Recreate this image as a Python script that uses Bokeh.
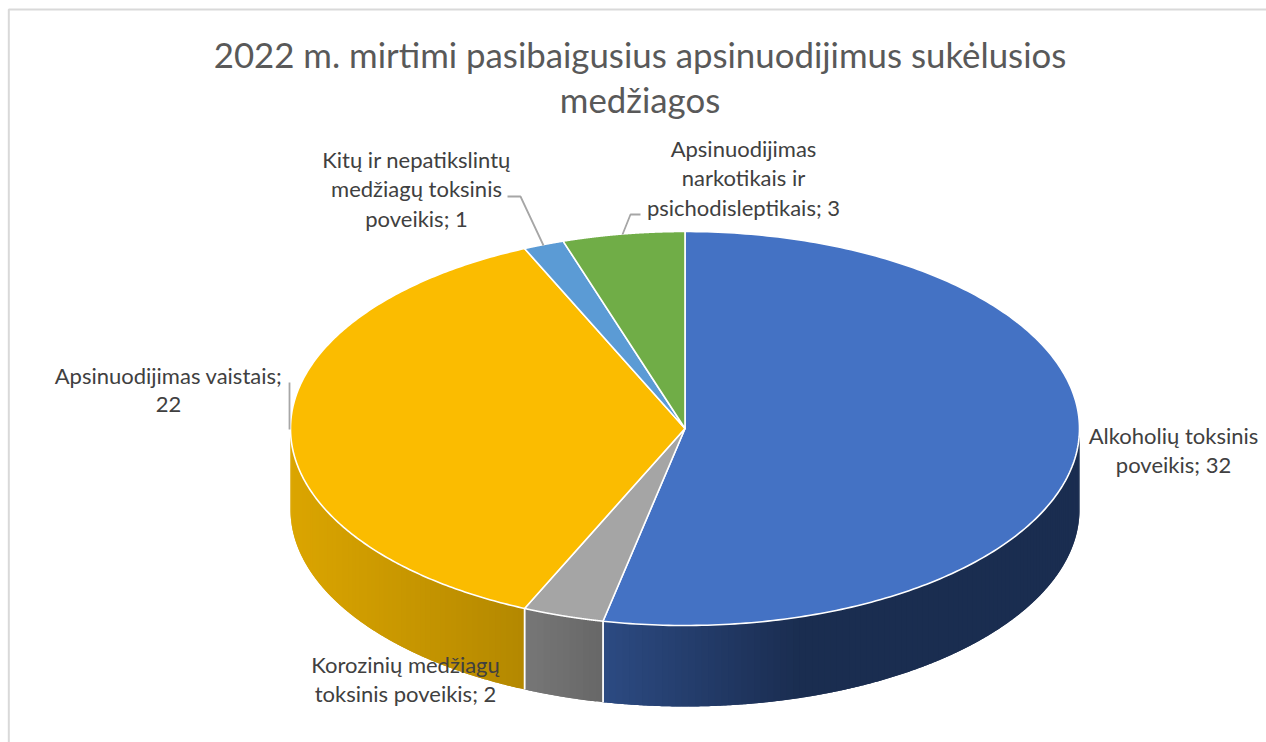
import numpy as np
from bokeh.plotting import figure
from bokeh.models import Range1d
from bokeh.core.properties import value
from bokeh.embed import file_html
from bokeh.resources import INLINE

categories = ["Alkoholių toksinis poveikis", "Korozinių medžiagų toksinis poveikis",
              "Apsinuodijimas vaistais", "Kitų ir nepatikslintų medžiagų toksinis poveikis",
              "Apsinuodijimas narkotikais ir psichodisleptikais"]
values = [32, 2, 22, 1, 3]
top_colors = ["#4472C4", "#A5A5A5", "#FBBC00", "#5B9BD5", "#70AD47"]
side_left = ["#2C4A82", "#777777", "#DBA500", "#3C6690", "#4A7530"]
side_right = ["#1A2D50", "#676767", "#B48800", "#3C6690", "#4A7530"]
side_span = [(603, 800), (524, 603), (290, 524), (0, 1), (0, 1)]
title_lines = ["2022 m. mirtimi pasibaigusius apsinuodijimus sukėlusios", "medžiagos"]
label_lines = [
    ["Alkoholių toksinis", "poveikis; 32"],
    ["Korozinių medžiagų", "toksinis poveikis; 2"],
    ["Apsinuodijimas vaistais;", "22"],
    ["Kitų ir nepatikslintų", "medžiagų toksinis", "poveikis; 1"],
    ["Apsinuodijimas", "narkotikais ir", "psichodisleptikais; 3"],
]
label_pos = [(1173, 435), (405, 664), (168, 375), (416, 159), (743, 148)]
label_step = 29.3
leaders = [
    ([507, 520, 543], [196, 196, 245]),
    ([640, 630, 622], [214, 214, 234]),
    ([289, 289], [382, 429]),
]

W, H = 1266, 742
CX, CY, RX, RY, DEPTH = 684.5, 428, 394.5, 197, 81
FONT = "Lato"

p = figure(width=W, height=H, output_backend="svg", toolbar_location=None,
           x_range=Range1d(0, W), y_range=Range1d(H, 0),
           min_border=0, outline_line_color=None, background_fill_color="white",
           border_fill_color="white")
p.axis.visible = False
p.grid.visible = False


def hex2rgb(h):
    return np.array([int(h[i:i + 2], 16) for i in (1, 3, 5)], float)


def rgb2hex(c):
    return "#%02x%02x%02x" % tuple(int(round(v)) for v in c)


def ex(t):
    return CX + RX * np.sin(t)


def ey(t):
    return CY - RY * np.cos(t)


# slice boundaries, clockwise from the top, from the values
fractions = np.array(values, float) / sum(values)
edges = np.concatenate([[0], np.cumsum(fractions)]) * 2 * np.pi

# side walls (front half only): overlapping strips painted in order, for a smooth gradient
for i in range(len(values)):
    a, b = max(edges[i], np.pi / 2), min(edges[i + 1], 3 * np.pi / 2)
    if b <= a:
        continue
    n = int(max(4, (b - a) * 60))
    ts = np.linspace(a, b, n + 1)
    xs, ys, cols = [], [], []
    for k in range(n):
        t0, t1 = ts[k], ts[min(k + 2, n)]
        tm = np.linspace(t0, t1, 8)
        xs.append(list(ex(tm)) + list(ex(tm[::-1])))
        ys.append(list(ey(tm)) + list(ey(tm[::-1]) + DEPTH))
        x_mid = ex((ts[k] + ts[k + 1]) / 2)
        f = np.clip((x_mid - side_span[i][0]) / (side_span[i][1] - side_span[i][0]), 0, 1)
        cols.append(rgb2hex(hex2rgb(side_left[i]) * (1 - f) + hex2rgb(side_right[i]) * f))
    p.patches(xs, ys, fill_color=cols, line_color=None)
    # wall seams in white
    for t in (a, b):
        if abs(t - np.pi / 2) > 1e-6 and abs(t - 3 * np.pi / 2) > 1e-6:
            p.line([ex(t), ex(t)], [ey(t), ey(t) + DEPTH], line_color="white", line_width=1.6)

# top face
for i in range(len(values)):
    t = np.linspace(edges[i], edges[i + 1], 240)
    xs = [CX] + list(ex(t))
    ys = [CY] + list(ey(t))
    p.patch(xs, ys, fill_color=top_colors[i], line_color="white", line_width=1.6,
            line_join="round")

# leader lines
for lx, ly in leaders:
    p.line(lx, ly, line_color="#A6A6A6", line_width=1.8)

# chart frame (top and left edge)
p.line([8.3, 8.3, W], [H, 9, 9], line_color="#D9D9D9", line_width=2)

# title
p.text([639.5, 639.5], [54, 99], text=title_lines, text_font=value(FONT),
       text_font_size="34.8px", text_color="#595959", text_align="center",
       text_baseline="middle")

# data labels
for lines, (lx, ly) in zip(label_lines, label_pos):
    p.text([lx] * len(lines), [ly + k * label_step for k in range(len(lines))], text=lines,
           text_font=value(FONT), text_font_size="22px", text_color="#404040",
           text_align="center", text_baseline="middle")

open("out.html", "w").write(file_html(p, INLINE))
